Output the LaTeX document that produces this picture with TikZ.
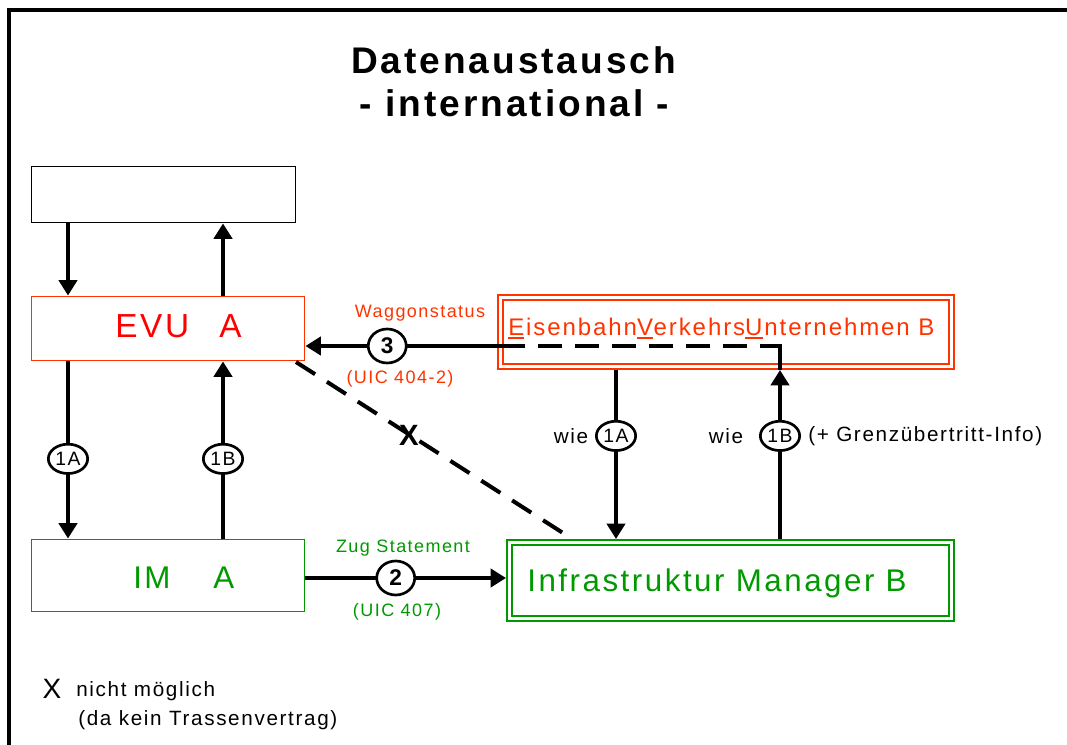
\documentclass[tikz,border=0pt]{standalone}
\usepackage{fontspec}
\setmainfont{Liberation Sans}[LetterSpace=8]
\usetikzlibrary{arrows.meta,shapes.geometric}
\definecolor{evu}{RGB}{255,51,0}
\definecolor{evutext}{RGB}{255,0,0}
\definecolor{imgreen}{RGB}{0,153,0}
\newcommand\myul[1]{\setbox0\hbox{#1}\rlap{\rule[-3pt]{\wd0}{1.5pt}}#1}
\begin{document}
\begin{tikzpicture}[x=0.75pt,y=-0.75pt,
  plainbox/.style={draw=black,line width=1.4pt,inner sep=0pt},
  evubox/.style={draw=evu,line width=1.4pt,inner sep=0pt},
  imbox/.style={draw=imgreen,line width=1.4pt,inner sep=0pt},
  dblbox/.style={line width=1.7pt,double=white,double distance=1.8pt,outer sep=2.6pt,inner sep=0pt},
  arr/.style={line width=3pt,-{Triangle[length=11.5pt,width=13.5pt]}},
  dsh/.style={line width=3pt,dash pattern=on 18pt off 9.75pt,dash phase=18pt},
  dshdiag/.style={line width=3pt,dash pattern=on 17pt off 10.5pt},
  circ/.style={ellipse,draw=black,line width=2pt,fill=white,inner sep=0pt,
    minimum width=29.5pt,minimum height=22pt,font=\fontsize{14.5}{14.5}\selectfont},
  circb/.style={circ,minimum width=28.5pt,minimum height=25.5pt,
    font=\fontsize{17}{17}\selectfont\bfseries},
  lbl/.style={inner sep=0pt,font=\fontsize{13.5}{15}\selectfont},
  blbl/.style={inner sep=0pt,font=\fontsize{15.5}{17}\selectfont},
  big/.style={inner sep=0pt,font=\fontsize{25}{28}\selectfont}
]
\useasboundingbox (0,0) rectangle (1067,745);
\begin{scope}
  \clip (0,0) rectangle (1067,745);
  \draw[line width=3.5pt] (9,10) rectangle (1100,800);
\end{scope}

% title
\node[inner sep=0pt,anchor=base,font=\fontsize{27.8}{30}\selectfont\bfseries] (t1) at (513.5,74) {Datenaustausch};
\node[inner sep=0pt,anchor=base,font=\fontsize{27.8}{30}\selectfont\bfseries] (t2) at (514.5,117) {- international -};

% boxes
\node[plainbox,minimum width=198pt,minimum height=42pt] (top) at (163.5,194.5) {};
\node[evubox,minimum width=204.75pt,minimum height=48pt] (evua) at (168,328.5) {};
\node[imbox,minimum width=204.75pt,minimum height=54pt] (ima) at (168,575.5) {};
\node[dblbox,draw=evu,minimum width=338.25pt,minimum height=51.75pt] (evub) at (726,332) {};
\node[dblbox,draw=imgreen,minimum width=331.5pt,minimum height=57pt] (imb) at (730.5,580.5) {};

% box texts
\node[big,anchor=base west,text=evutext] (evuaT1) at (115,337) {EVU};
\node[big,anchor=base west,text=evutext] (evuaT2) at (219,337) {A};
\node[big,anchor=base west,text=imgreen,font=\fontsize{23.5}{28}\selectfont] (imaT1) at (133,588) {IM};
\node[big,anchor=base west,text=imgreen,font=\fontsize{23.5}{28}\selectfont] (imaT2) at (213,588) {A};
\node[inner sep=0pt,anchor=base west,text=evu,font=\fontsize{18}{20}\selectfont] (evubT) at (508,335)
  {\myul{E}isenbahn\myul{V}erkehrs\myul{U}nternehmen B};
\node[inner sep=0pt,anchor=base,text=imgreen,font=\fontsize{23.5}{28}\selectfont] (imbT) at (717,591)
  {Infrastruktur Manager B};

% x positions
\coordinate (xl) at (68,0);
\coordinate (xr) at (223,0);
\coordinate (xR1) at (616,0);
\coordinate (xR2) at (780,0);
\coordinate (y3) at (0,346);
\coordinate (y2) at (0,578);
\coordinate (turn3) at (760,346);
\coordinate (mid3) at (523,346);
\coordinate (xs) at (296,362);
\coordinate (xe) at (563,533);

% left connectors
\draw[arr] (top.south -| xl) -- (evua.north -| xl);
\draw[arr] (evua.north -| xr) -- (top.south -| xr);
\draw[arr] (evua.south -| xl) -- node[circ,pos=.55] (c1al) {1A} (ima.north -| xl);
\draw[arr] (ima.north -| xr) -- node[circ,pos=.45] (c1bl) {1B} (evua.south -| xr);

% right connectors
\draw[arr] (evub.south -| xR1) -- node[circ,pos=.39] (c1ar) {1A} (imb.north -| xR1);
\draw[arr] (imb.north -| xR2) -- node[circ,pos=.61] (c1br) {1B} (evub.south -| xR2);

% message 3
\draw[line width=3pt] (evub.south -| xR2) |- (turn3);
\draw[dsh] (turn3) -- (mid3);
\draw[arr] (mid3) -- node[circb,pos=.624] (c3) {3} (evua.east |- y3);

% message 2
\draw[arr] (ima.east |- y2) -- node[circb,pos=.45] (c2) {2} (imb.west |- y2);

% impossible diagonal
\draw[dshdiag] (xs) -- (xe);
\node[inner sep=0pt,font=\fontsize{22}{24}\selectfont\bfseries] (xmark) at (409,435) {X};

% labels
\node[lbl,text=evu] (lw) at (420,313) {Waggonstatus};
\node[lbl,text=evu] (lu3) at (400,379) {(UIC 404-2)};
\node[lbl,text=imgreen] (lz) at (403,548) {Zug Statement};
\node[lbl,text=imgreen] (lu2) at (397,612) {(UIC 407)};
\node[blbl] (wie1) at (571,436) {wie};
\node[blbl] (wie2) at (726,436) {wie};
\node[blbl,anchor=west] (gren) at (808,436) {(+ Grenzübertritt-Info)};

% legend
\node[inner sep=0pt,font=\fontsize{21}{24}\selectfont] (legX) at (52,689) {X};
\node[blbl,anchor=west] (leg1) at (76,691) {nicht möglich};
\node[blbl,anchor=west] (leg2) at (78,720) {(da kein Trassenvertrag)};
\end{tikzpicture}
\end{document}
